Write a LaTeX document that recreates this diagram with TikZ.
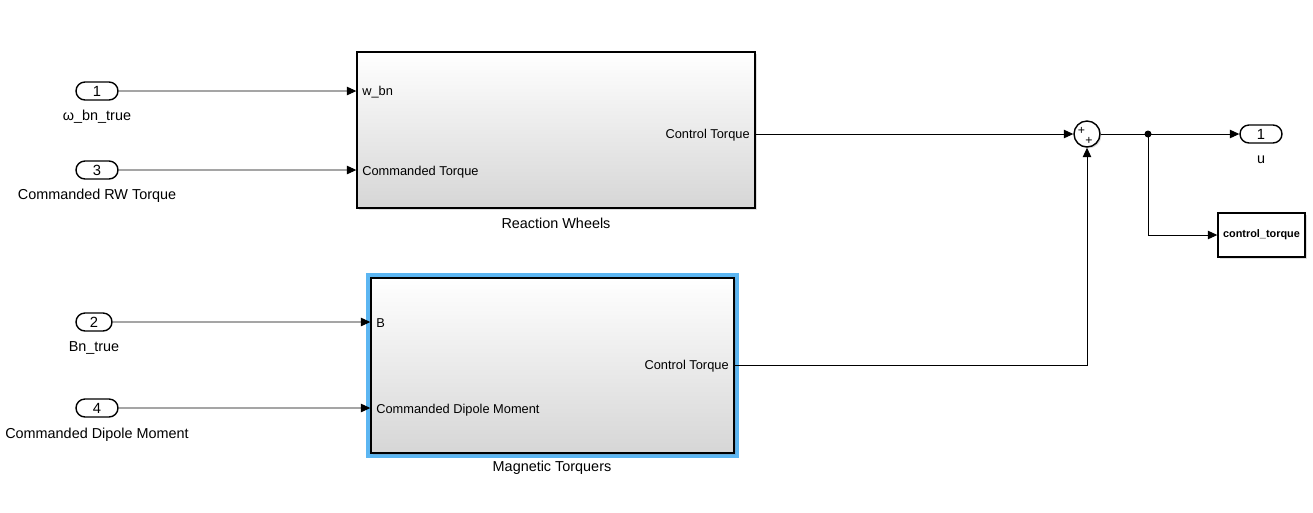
\documentclass[tikz,border=0pt]{standalone}
\usepackage{fontspec}
\setmainfont{Liberation Sans}
\usepackage{xcolor}
\usetikzlibrary{arrows.meta, shapes.misc, shadows}
\definecolor{selblue}{HTML}{5CB6F2}
\definecolor{blkgray}{HTML}{D6D6D6}
\tikzset{
  ionode/.style={rounded rectangle,draw=black,line width=0.8pt,minimum width=0.84cm,minimum height=0.36cm,inner sep=0pt,fill=white,font=\fontsize{8.4}{9}\selectfont},
  extlbl/.style={inner sep=0pt,font=\fontsize{8.2}{9}\selectfont},
  portlbl/.style={inner sep=0pt,font=\fontsize{7.3}{8}\selectfont},
  subsys/.style={draw=black,line width=0.8pt,top color=white,bottom color=blkgray,drop shadow={shadow xshift=1.2pt,shadow yshift=-1.2pt,opacity=0.25}},
  selring/.style={draw=selblue,line width=2.2pt},
  sumnode/.style={circle,draw=black,line width=0.8pt,minimum size=0.52cm,inner sep=0pt,fill=white,drop shadow={shadow xshift=0.8pt,shadow yshift=-0.8pt,opacity=0.3}},
  sumsign/.style={inner sep=0pt,font=\fontsize{7}{7}\selectfont},
  sig/.style={-{Triangle[length=0.19cm,width=0.17cm]},line width=0.55pt},
}
\begin{document}
\begin{tikzpicture}[x=0.02cm,y=-0.02cm]
  \useasboundingbox (0,0) rectangle (1313,512);
  % ---- inports ----
  \node[ionode] (in1) at (97,91) {1};
  \node[ionode] (in3) at (97,170) {3};
  \node[ionode,minimum width=0.72cm] (in2) at (94,322) {2};
  \node[ionode] (in4) at (97,408) {4};
  \node[extlbl] (l1) at (97,116.5) {ω\_bn\_true};
  \node[extlbl] (l3) at (97,195.5) {Commanded RW Torque};
  \node[extlbl] (l2) at (94,347.5) {Bn\_true};
  \node[extlbl] (l4) at (97,434.5) {Commanded Dipole Moment};
  % ---- subsystems ----
  \node[subsys,minimum width=7.96cm,minimum height=3.12cm] (RW) at (556,130) {};
  \node[portlbl,anchor=west] (pwbn) at (362,92.5) {w\_bn};
  \node[portlbl,anchor=west] (pcmdt) at (362,172.5) {Commanded Torque};
  \node[portlbl,anchor=east] (prwout) at (750,135.5) {Control Torque};
  \node[extlbl] (lrw) at (556,223.5) {Reaction Wheels};
  \node[selring,minimum width=7.38cm,minimum height=3.62cm] (MTsel) at (552.5,365.5) {};
  \node[subsys,minimum width=7.26cm,minimum height=3.5cm] (MT) at (552.5,365.5) {};
  \node[portlbl,anchor=west] (pb) at (376,323.5) {B};
  \node[portlbl,anchor=west] (pdip) at (376,410.5) {Commanded Dipole Moment};
  \node[portlbl,anchor=east] (pmtout) at (729,366.5) {Control Torque};
  \node[extlbl] (lmt) at (552,467.5) {Magnetic Torquers};
  % ---- sum, outport, display ----
  \node[sumnode] (sum) at (1087,134) {};
  \node[sumsign] (s1) at (1081.5,131) {+};
  \node[sumsign] (s2) at (1089,141) {+};
  \node[ionode] (out1) at (1261,134) {1};
  \node[extlbl] (lu) at (1261,159.5) {u};
  \node[draw=black,line width=0.8pt,minimum width=1.74cm,minimum height=0.88cm,inner sep=0pt,font=\bfseries\fontsize{6.2}{7}\selectfont,drop shadow={shadow xshift=1pt,shadow yshift=-1pt,opacity=0.25},fill=white] (ctq) at (1261.5,235) {control\_torque};
  \coordinate (jn) at (1148,134);
  % ---- signals ----
  \draw[sig] (in1) -- (in1 -| RW.west);
  \draw[sig] (in3) -- (in3 -| RW.west);
  \draw[sig] (in2) -- (in2 -| MT.west);
  \draw[sig] (in4) -- (in4 -| MT.west);
  \draw[sig] (sum -| RW.east) -- (sum);
  \draw[sig] (MT.east) -- (MT.east -| sum) -- (sum);
  \draw[sig] (sum) -- (out1);
  \draw[sig] (jn) |- (ctq);
  \fill (jn) circle (0.07cm);
\end{tikzpicture}
\end{document}
